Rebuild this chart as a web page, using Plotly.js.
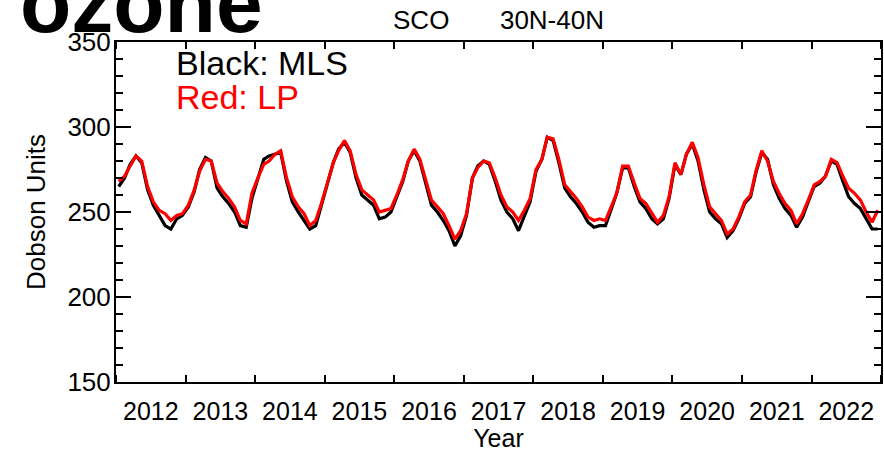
<!DOCTYPE html>
<html>
<head>
<meta charset="utf-8">
<script src="https://cdn.plot.ly/plotly-3.0.1.min.js"></script>
<style>
html,body{margin:0;padding:0;background:#fff;}
#chart{width:884px;height:452px;}
</style>
</head>
<body>
<div id="chart"></div>
<script>
// Monthly series, Jan 2012 .. Dec 2022
const startYear = 2012;
const nMonths = 132;
const yearLabels = ['2012','2013','2014','2015','2016','2017','2018','2019','2020','2021','2022'];

const mlsValues = [
  265, 270, 278, 283, 279, 263, 254, 248, 242, 240, 246, 248,
  253, 262, 275, 282, 280, 264, 259, 255, 250, 242, 241, 258,
  270, 281, 283, 284, 285, 268, 256, 250, 245, 240, 242, 254,
  266, 279, 287, 291, 285, 270, 260, 257, 254, 246, 247, 250,
  259, 268, 280, 286, 280, 267, 254, 250, 245, 239, 230, 236,
  248, 270, 277, 280, 278, 268, 257, 250, 246, 239, 248, 256,
  274, 281, 294, 292, 279, 264, 259, 255, 250, 244, 241, 242,
  242, 252, 261, 276, 276, 265, 256, 252, 246, 243, 246, 258,
  278, 272, 284, 290, 280, 263, 250, 246, 243, 235, 239, 246,
  255, 259, 273, 285, 281, 266, 258, 252, 248, 241, 247, 256,
  265, 267, 271, 280, 278, 268, 259, 255, 252, 246, 240, 240
];

const lpValues = [
  268, 271, 277, 283, 280, 265, 256, 251, 249, 245, 248, 249,
  254, 263, 274, 281, 280, 267, 262, 258, 253, 245, 243, 261,
  270, 278, 280, 284, 286, 270, 259, 253, 249, 242, 245, 255,
  267, 279, 286, 292, 286, 272, 263, 260, 257, 250, 251, 252,
  260, 269, 280, 287, 281, 269, 257, 253, 249, 242, 234, 239,
  249, 270, 276, 280, 279, 270, 260, 253, 250, 245, 251, 258,
  275, 281, 294, 293, 281, 266, 262, 258, 253, 247, 245, 246,
  245, 253, 261, 277, 277, 267, 258, 255, 249, 244, 248, 259,
  279, 272, 284, 291, 282, 266, 253, 249, 245, 237, 240, 247,
  256, 260, 274, 286, 280, 268, 261, 255, 251, 243, 249, 257,
  266, 268, 271, 281, 279, 271, 264, 261, 257, 250, 244, 251
];

const dates = [];
for (let i = 0; i < nMonths; i++) {
  const y = startYear + Math.floor(i / 12);
  const m = (i % 12) + 1;
  dates.push(y + '-' + String(m).padStart(2, '0') + '-15');
}
const firstYear = yearLabels[0] + '-01-01';
const endYear = (parseInt(yearLabels[yearLabels.length - 1], 10) + 1) + '-01-01';

const FONT = '"Liberation Sans", Arial, Helvetica, sans-serif';

const traces = [
  {x: dates, y: mlsValues, type: 'scatter', mode: 'lines', name: 'MLS',
   line: {color: '#000000', width: 3.2}},
  {x: dates, y: lpValues, type: 'scatter', mode: 'lines', name: 'LP',
   line: {color: '#ff0000', width: 3.2}}
];

const layout = {
  width: 884, height: 452,
  margin: {l: 116, r: 3, t: 42, b: 70, pad: 0},
  paper_bgcolor: '#ffffff', plot_bgcolor: '#ffffff',
  showlegend: false,
  font: {family: FONT, color: '#000000'},
  title: {text: 'SCO\u00A0\u00A0\u00A0\u00A0\u00A0\u00A0\u00A030N-40N',
          font: {family: FONT, size: 26, color: '#000'},
          x: 0.5, xref: 'paper', xanchor: 'center', y: 0.955, yanchor: 'middle'},
  xaxis: {
    type: 'date',
    range: [firstYear, endYear],
    tickmode: 'linear', tick0: firstYear, dtick: 'M12',
    tickformat: '%Y', ticklabelmode: 'period',
    ticks: 'inside', ticklen: 7, tickwidth: 2, tickcolor: '#000',
    showline: true, linewidth: 2, linecolor: '#000', mirror: 'ticks',
    showgrid: false, zeroline: false,
    tickfont: {family: FONT, size: 25, color: '#000'},
    ticklabelstandoff: 6,
    title: {text: 'Year', font: {family: FONT, size: 25, color: '#000'}, standoff: 0}
  },
  yaxis: {
    range: [150, 350],
    tickmode: 'linear', tick0: 150, dtick: 50,
    ticks: 'inside', ticklen: 15, tickwidth: 2, tickcolor: '#000',
    minor: {dtick: 10, ticks: 'inside', ticklen: 7, tickwidth: 2, tickcolor: '#000', showgrid: false},
    showline: true, linewidth: 2, linecolor: '#000', mirror: 'ticks',
    showgrid: false, zeroline: false,
    tickfont: {family: FONT, size: 26, color: '#000'},
    ticklabelstandoff: -2,
    title: {text: 'Dobson Units', font: {family: FONT, size: 26, color: '#000'}, standoff: 14}
  },
  annotations: [
    {text: 'Black: MLS', xref: 'paper', yref: 'paper', x: 0.076, y: 0.938,
     xanchor: 'left', yanchor: 'middle', showarrow: false,
     font: {family: FONT, size: 34, color: '#000'}},
    {text: 'Red: LP', xref: 'paper', yref: 'paper', x: 0.076, y: 0.838,
     xanchor: 'left', yanchor: 'middle', showarrow: false,
     font: {family: FONT, size: 34, color: '#ff0000'}},
    {text: '<b>ozone</b>', xref: 'paper', yref: 'paper', x: -0.128, y: 0.97,
     xanchor: 'left', yanchor: 'bottom', showarrow: false,
     font: {family: FONT, size: 84, color: '#000'}}
  ]
};

Plotly.newPlot('chart', traces, layout, {staticPlot: true, displayModeBar: false});
</script>
</body>
</html>
